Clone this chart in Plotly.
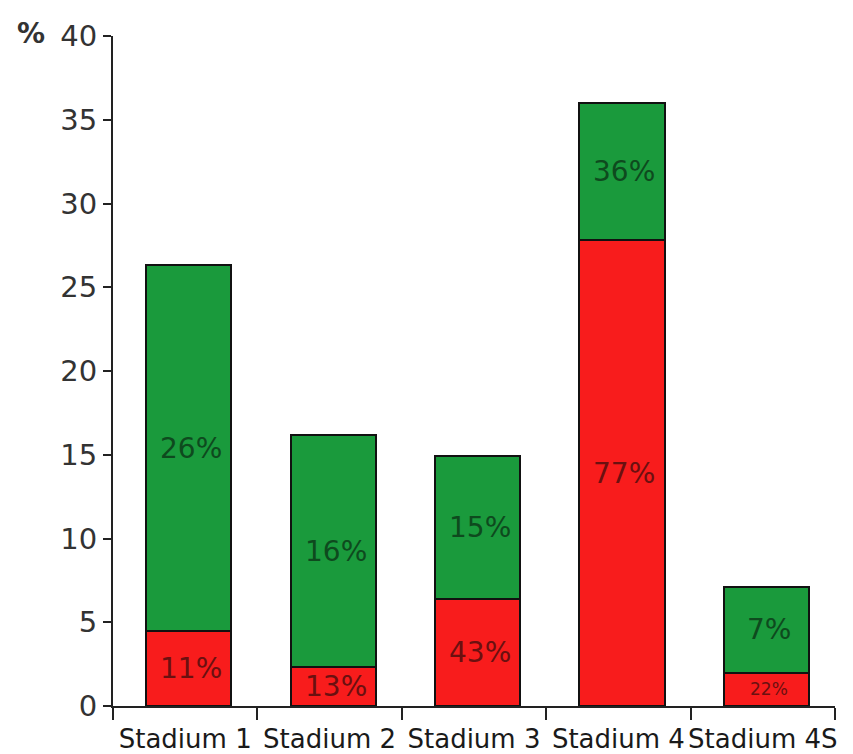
import plotly.graph_objects as go

categories = ["Stadium 1", "Stadium 2", "Stadium 3", "Stadium 4", "Stadium 4S"]
red_values = [4.5, 2.3, 6.4, 27.8, 2.0]
total_values = [26.3, 16.2, 14.9, 36.0, 7.1]
green_values = [t - r for t, r in zip(total_values, red_values)]
red_labels = ["11%", "13%", "43%", "77%", "22%"]
green_labels = ["26%", "16%", "15%", "36%", "7%"]
red_label_sizes = [28, 28, 28, 28, 17]
green_label_sizes = [28, 28, 28, 28, 28]
y_ticks = [0, 5, 10, 15, 20, 25, 30, 35, 40]

RED = "#f81c1c"
GREEN = "#1a9a3c"
BAR_W = 0.59
BAR_OFF = -0.27

fig = go.Figure()
fig.add_trace(go.Bar(x=categories, y=red_values, marker=dict(color=RED, line=dict(color="#111", width=2)),
                     width=BAR_W, offset=BAR_OFF, hoverinfo="skip"))
fig.add_trace(go.Bar(x=categories, y=green_values, marker=dict(color=GREEN, line=dict(color="#111", width=2)),
                     width=BAR_W, offset=BAR_OFF, hoverinfo="skip"))

annotations = []
for i, c in enumerate(categories):
    annotations.append(dict(x=i, y=red_values[i] / 2, xref="x", yref="y", text=red_labels[i],
                            showarrow=False, xshift=6,
                            font=dict(family="DejaVu Sans", size=red_label_sizes[i], color="#6b1010")))
    annotations.append(dict(x=i, y=red_values[i] + green_values[i] / 2, xref="x", yref="y",
                            text=green_labels[i], showarrow=False, xshift=6,
                            font=dict(family="DejaVu Sans", size=green_label_sizes[i], color="#0e4a1e")))
annotations.append(dict(x=0.0, y=1.0, xref="paper", yref="paper", xanchor="right", yanchor="middle",
                        xshift=-66, yshift=3, text="<b>%</b>", showarrow=False,
                        font=dict(family="DejaVu Sans", size=28, color="#333")))

fig.update_layout(
    barmode="stack",
    showlegend=False,
    width=853, height=754,
    margin=dict(l=113, r=18, t=36, b=48, autoexpand=False),
    paper_bgcolor="white", plot_bgcolor="white",
    annotations=annotations,
    xaxis=dict(
        type="category", range=[-0.5, 4.5], tickson="boundaries", tickangle=0, automargin=False,
        ticks="outside", ticklen=12, tickwidth=2, tickcolor="#222", ticklabelstandoff=9,
        showline=True, linecolor="#222", linewidth=2, showgrid=False,
        tickfont=dict(family="DejaVu Sans", size=26, color="#1a1a1a"),
    ),
    yaxis=dict(
        range=[0, 40], tickvals=y_ticks, ticks="outside", ticklen=8, tickwidth=2, tickcolor="#222",
        automargin=False,
        showline=True, linecolor="#222", linewidth=2, showgrid=False, zeroline=False,
        tickfont=dict(family="DejaVu Sans", size=29, color="#333"),
    ),
)

fig.write_html("out.html")
